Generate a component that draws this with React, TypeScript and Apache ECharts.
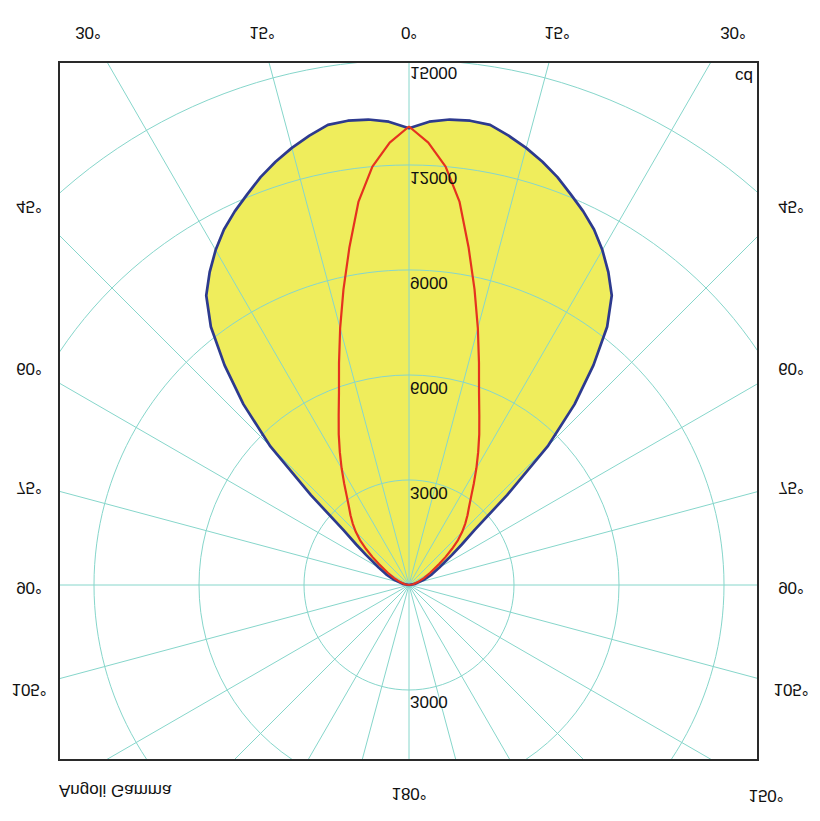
import React, { useEffect, useRef } from 'react';
import * as echarts from 'echarts';

// Gamma angles (degrees from the vertical axis), symmetric on both sides
const gammaAngles = [0, 2.5, 5, 7.5, 10, 12.5, 15, 17.5, 20, 22.5, 25, 27.5, 30, 32.5, 35, 37.5, 40, 42.5, 45, 47.5, 50, 52.5, 55, 60, 65, 70, 80, 90];
// Luminous intensity (cd) - wide plane (blue outline, yellow fill)
const planeWide = [13050, 13250, 13350, 13380, 13350, 13150, 12930, 12680, 12400, 12080, 11780, 11450, 11050, 10600, 10100, 9300, 8200, 7000, 5600, 3800, 2450, 1900, 1500, 1000, 720, 480, 180, 0];
// Luminous intensity (cd) - narrow plane (red)
const planeNarrow = [13100, 12650, 12000, 11050, 9800, 8650, 7600, 6650, 5850, 5250, 4750, 4280, 3850, 3450, 3100, 2820, 2600, 2380, 2150, 1900, 1600, 1320, 1050, 700, 480, 300, 120, 0];

// Grid: radial spokes every 15 degrees (each one a full diameter)
const spokeAngles = [0, 15, 30, 45, 60, 75, 90, 105, 120, 135, 150, 165];

const ringValues = [3000, 6000, 9000, 12000, 15000];
const ringLabels = ['3000', '6000', '9000', '12000', '15000'];
const topLabels = ['30°', '15°', '0°', '15°', '30°'];
const sideLabels = ['45°', '60°', '75°', '90°', '105°'];
const bottomLabels = ['Angoli Gamma', '180°', '150°'];
const unitLabel = 'cd';

const CX = 409;
const CY = 585;
const RADIUS_PX = 682.5;
const RADIUS_MAX = 19500;
const PX_PER_CD = RADIUS_PX / RADIUS_MAX;

const TEAL = '#86d6cb';
const YELLOW = '#efed5c';
const FONT = '"Liberation Sans", Arial, sans-serif';

function mirrorData(values: number[]) {
  const out: [number, number][] = [];
  for (let i = gammaAngles.length - 1; i >= 1; i--) out.push([values[i], 360 - gammaAngles[i]]);
  for (let i = 0; i < gammaAngles.length; i++) out.push([values[i], gammaAngles[i]]);
  return out;
}

function flipText(text: string, x: number, y: number, align: string = 'center') {
  return {
    type: 'text',
    x,
    y,
    scaleY: -1,
    z: 120,
    style: {
      text,
      fill: '#111',
      fontSize: 17,
      fontFamily: FONT,
      align,
      verticalAlign: 'middle',
    },
  };
}

const hiddenAxisParts = {
  axisLine: { show: false },
  axisTick: { show: false },
  axisLabel: { show: false },
};

export default function App() {
  const ref = useRef<HTMLDivElement>(null);
  useEffect(() => {
    if (!ref.current) return;
    const chart = echarts.init(ref.current, null, { renderer: 'svg' });

    const topX = [88, 262, 409, 557, 733];
    const sideY = [206, 368, 487, 587, 689];

    const graphics: any[] = [
      { type: 'rect', z: 100, shape: { x: 0, y: 0, width: 820, height: 61 }, style: { fill: '#fff' } },
      { type: 'rect', z: 100, shape: { x: 0, y: 761, width: 820, height: 60 }, style: { fill: '#fff' } },
      { type: 'rect', z: 100, shape: { x: 0, y: 0, width: 58, height: 821 }, style: { fill: '#fff' } },
      { type: 'rect', z: 100, shape: { x: 759, y: 0, width: 61, height: 821 }, style: { fill: '#fff' } },
      { type: 'rect', z: 105, shape: { x: 59, y: 62, width: 699, height: 698 }, style: { fill: 'none', stroke: '#2a2a2a', lineWidth: 2 } },
    ];
    topLabels.forEach((t, i) => graphics.push(flipText(t, topX[i], 32)));
    sideLabels.forEach((t, i) => {
      graphics.push(flipText(t, 29, sideY[i]));
      graphics.push(flipText(t, 791, sideY[i]));
    });
    graphics.push(flipText(bottomLabels[0], 59, 790, 'left'));
    graphics.push(flipText(bottomLabels[1], 409, 793));
    graphics.push(flipText(bottomLabels[2], 766, 795));
    ringValues.forEach((v, i) => {
      graphics.push(flipText(ringLabels[i], 410, CY - v * PX_PER_CD + 12, 'left'));
    });
    graphics.push(flipText(ringLabels[0], 410, CY + ringValues[0] * PX_PER_CD + 11, 'left'));
    graphics.push(flipText(unitLabel, 753, 76, 'right'));

    const wideData = mirrorData(planeWide);
    const wideAt45 = planeWide[gammaAngles.indexOf(45)];

    const spokeSeries = spokeAngles.map((a) => ({
      type: 'line', coordinateSystem: 'polar', z: 3, symbol: 'none', silent: true, clip: false,
      data: [[RADIUS_MAX, a], [RADIUS_MAX, a + 180]],
      lineStyle: { width: 1, color: TEAL },
    }));

    // white under-strokes along the 45/225 degree diameter, outside the filled lobe
    const underStroke = [
      [[wideAt45, 45], [RADIUS_MAX, 45]],
      [[0, 225], [RADIUS_MAX, 225]],
    ].map((d) => ({
      type: 'line', coordinateSystem: 'polar', z: 2, symbol: 'none', silent: true, clip: false,
      data: d,
      lineStyle: { width: 3, color: '#ffffff' },
    }));

    const option: any = {
      animation: false,
      polar: { center: [CX, CY], radius: RADIUS_PX },
      angleAxis: {
        type: 'value', min: 0, max: 360, interval: 15, startAngle: 90, clockwise: true, z: 3,
        ...hiddenAxisParts,
        splitLine: { show: false },
      },
      radiusAxis: {
        type: 'value', min: 0, max: RADIUS_MAX, interval: 3000, z: 3,
        ...hiddenAxisParts,
        splitLine: { show: true, lineStyle: { color: TEAL, width: 1 } },
      },
      series: [
        {
          type: 'custom', coordinateSystem: 'polar', z: 1, silent: true,
          data: wideData,
          renderItem: (params: any, api: any) => {
            if (params.dataIndex !== 0) return null;
            const pts = wideData.map((d) => api.coord(d));
            return { type: 'polygon', shape: { points: pts }, style: { fill: YELLOW, stroke: 'none' } };
          },
        },
        ...underStroke,
        ...spokeSeries,
        {
          type: 'line', coordinateSystem: 'polar', z: 5, symbol: 'none',
          data: wideData,
          lineStyle: { width: 2.7, color: '#2d3a8e' },
        },
        {
          type: 'line', coordinateSystem: 'polar', z: 6, symbol: 'none',
          data: mirrorData(planeNarrow),
          lineStyle: { width: 2.2, color: '#e5321f' },
        },
      ],
      graphic: graphics,
    };
    chart.setOption(option);
    return () => chart.dispose();
  }, []);

  return (
    <div
      ref={ref}
      style={{ position: 'absolute', left: 0, top: 0, width: 820, height: 821, background: '#fff' }}
    />
  );
}
